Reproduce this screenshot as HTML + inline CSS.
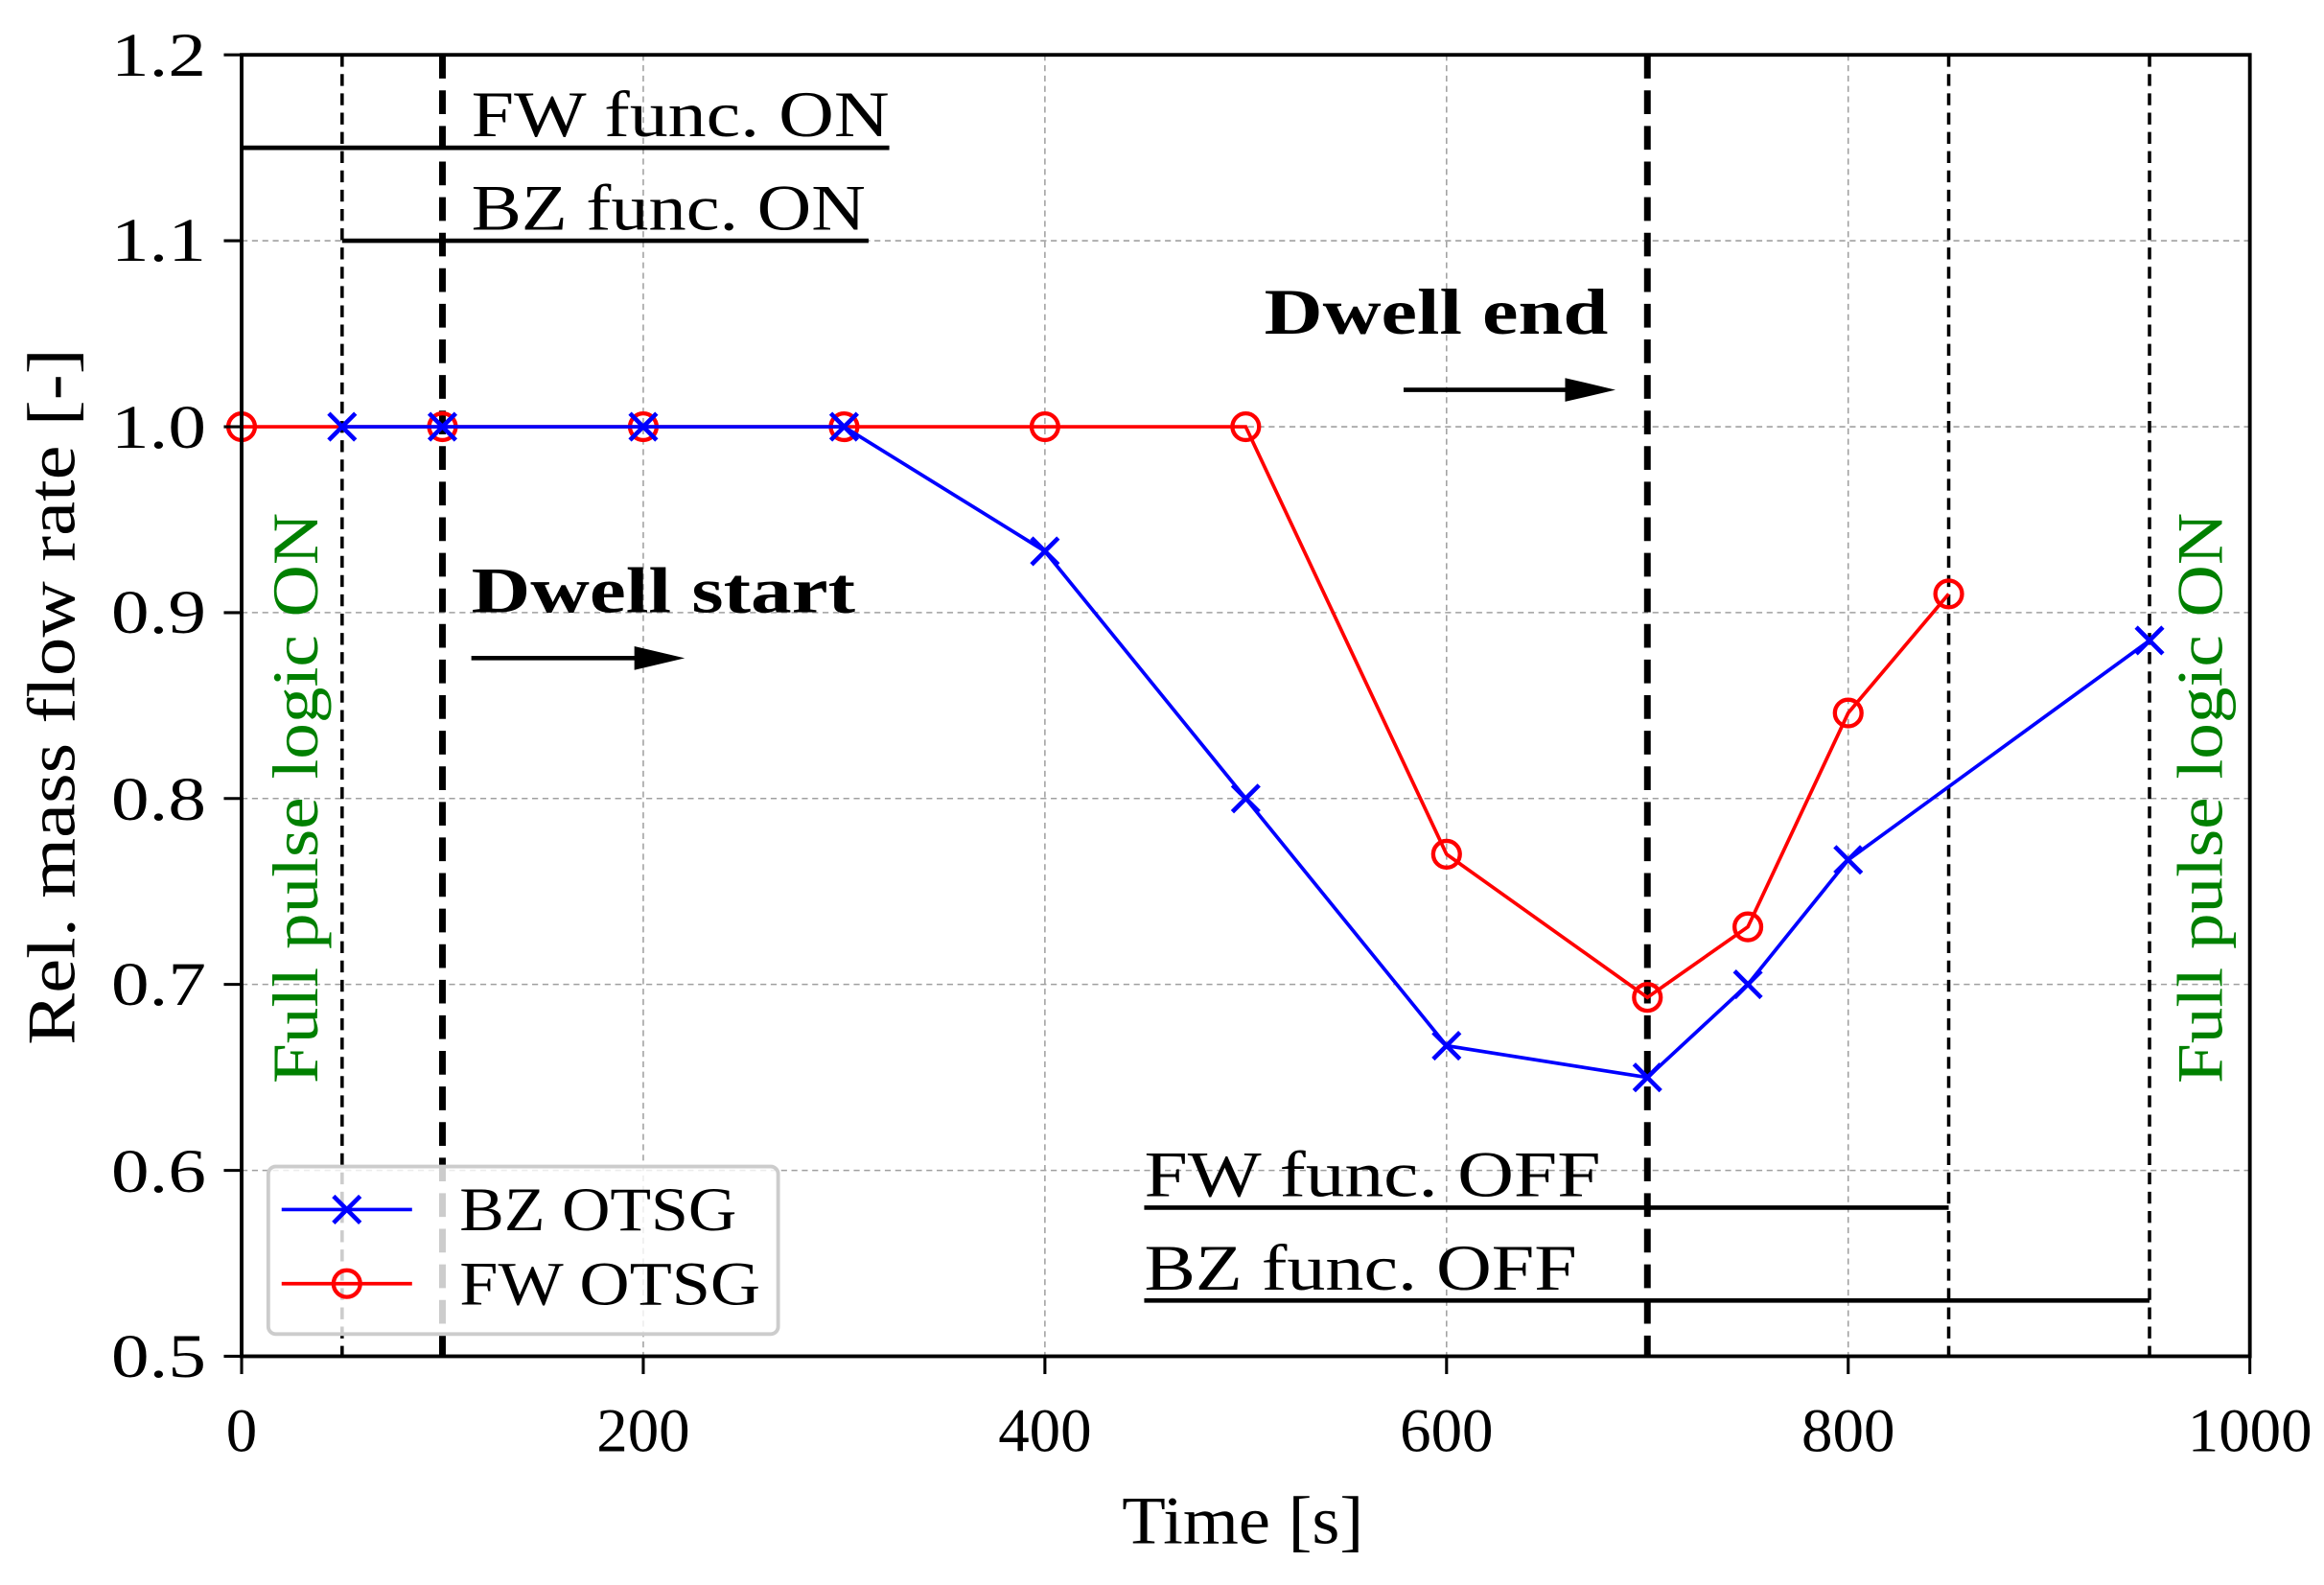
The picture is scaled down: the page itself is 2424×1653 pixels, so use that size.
<!DOCTYPE html>
<html><head><meta charset="utf-8"><style>html,body{margin:0;padding:0;background:#fff}svg{display:block}</style></head>
<body>
<svg width="2424" height="1653" viewBox="0 0 1568 1069.3" xmlns="http://www.w3.org/2000/svg" font-family="'Liberation Serif', serif">
<rect width="1568" height="1070" fill="#fff"/>
<!-- grid -->
<g stroke="#a0a0a0" stroke-width="1" stroke-dasharray="4,3">
<line x1="434" y1="37" x2="434" y2="915"/><line x1="705" y1="37" x2="705" y2="915"/><line x1="976" y1="37" x2="976" y2="915"/><line x1="1247" y1="37" x2="1247" y2="915"/>
<line x1="163" y1="162.4" x2="1518" y2="162.4"/><line x1="163" y1="287.9" x2="1518" y2="287.9"/><line x1="163" y1="413.3" x2="1518" y2="413.3"/><line x1="163" y1="538.7" x2="1518" y2="538.7"/><line x1="163" y1="664.1" x2="1518" y2="664.1"/><line x1="163" y1="789.6" x2="1518" y2="789.6"/>
</g>
<!-- vertical event lines -->
<g stroke="#000" fill="none">
<line x1="230.8" y1="37" x2="230.8" y2="915" stroke-width="2.3" stroke-dasharray="8,5"/>
<line x1="1314.8" y1="37" x2="1314.8" y2="915" stroke-width="2.3" stroke-dasharray="8,5"/>
<line x1="1450.3" y1="37" x2="1450.3" y2="915" stroke-width="2.3" stroke-dasharray="8,5"/>
<line x1="298.5" y1="37" x2="298.5" y2="915" stroke-width="4.5" stroke-dasharray="16,8"/>
<line x1="1111.5" y1="37" x2="1111.5" y2="915" stroke-width="4.5" stroke-dasharray="16,8"/>
<line x1="163" y1="99.7" x2="600" y2="99.7" stroke-width="3"/>
<line x1="230.8" y1="162.4" x2="586" y2="162.4" stroke-width="3"/>
<line x1="772" y1="814.7" x2="1314.8" y2="814.7" stroke-width="3"/>
<line x1="772" y1="877.4" x2="1450.3" y2="877.4" stroke-width="3"/>
</g>
<!-- annotations -->
<g font-size="44" fill="#000" lengthAdjust="spacingAndGlyphs">
<text x="318" y="92" textLength="282" lengthAdjust="spacingAndGlyphs">FW func. ON</text>
<text x="318" y="155" textLength="266" lengthAdjust="spacingAndGlyphs">BZ func. ON</text>
<text x="772" y="807" textLength="308" lengthAdjust="spacingAndGlyphs">FW func. OFF</text>
<text x="772" y="870" textLength="292" lengthAdjust="spacingAndGlyphs">BZ func. OFF</text>
<text x="318" y="413" font-weight="bold" textLength="259" lengthAdjust="spacingAndGlyphs">Dwell start</text>
<text x="853" y="225" font-weight="bold" textLength="232" lengthAdjust="spacingAndGlyphs">Dwell end</text>
</g>
<line x1="318" y1="444" x2="440" y2="444" stroke="#000" stroke-width="3"/>
<polygon points="428,436 462,444 428,452" fill="#000"/>
<line x1="947" y1="263" x2="1068" y2="263" stroke="#000" stroke-width="3"/>
<polygon points="1056,255 1090,263 1056,271" fill="#000"/>
<g font-size="44" fill="#008000">
<text transform="translate(214,731) rotate(-90)" textLength="385" lengthAdjust="spacingAndGlyphs">Full pulse logic ON</text>
<text transform="translate(1499,731) rotate(-90)" textLength="385" lengthAdjust="spacingAndGlyphs">Full pulse logic ON</text>
</g>
<!-- series -->
<polyline fill="none" stroke="#ff0000" stroke-width="2.4" points="163,287.9 298.5,287.9 434,287.9 569.5,287.9 705,287.9 840.5,287.9 976,576.3 1111.5,672.9 1179.3,625.3 1247,481 1314.8,400.7"/>
<g fill="none" stroke="#ff0000" stroke-width="2.8">
<circle cx="163" cy="287.9" r="9"/><circle cx="298.5" cy="287.9" r="9"/><circle cx="434" cy="287.9" r="9"/><circle cx="569.5" cy="287.9" r="9"/><circle cx="705" cy="287.9" r="9"/><circle cx="840.5" cy="287.9" r="9"/><circle cx="976" cy="576.3" r="9"/><circle cx="1111.5" cy="672.9" r="9"/><circle cx="1179.3" cy="625.3" r="9"/><circle cx="1247" cy="481" r="9"/><circle cx="1314.8" cy="400.7" r="9"/>
</g>
<polyline fill="none" stroke="#0000ff" stroke-width="2.4" points="230.8,287.9 298.5,287.9 434,287.9 569.5,287.9 705,371.9 840.5,538.7 976,705.5 1111.5,726.9 1179.3,664.1 1247,580.1 1450.3,432.1"/>
<g stroke="#0000ff" stroke-width="3">
<path d="M221.8,278.9l18,18M239.8,278.9l-18,18 M289.5,278.9l18,18M307.5,278.9l-18,18 M425,278.9l18,18M443,278.9l-18,18 M560.5,278.9l18,18M578.5,278.9l-18,18 M696,362.9l18,18M714,362.9l-18,18 M831.5,529.7l18,18M849.5,529.7l-18,18 M967,696.5l18,18M985,696.5l-18,18 M1102.5,717.9l18,18M1120.5,717.9l-18,18 M1170.3,655.1l18,18M1188.3,655.1l-18,18 M1238,571.1l18,18M1256,571.1l-18,18 M1441.3,423.1l18,18M1459.3,423.1l-18,18"/>
</g>
<!-- legend -->
<rect x="181" y="787" width="344" height="113" rx="5" fill="#fff" fill-opacity="0.8" stroke="#cccccc" stroke-width="2.5"/>
<line x1="190" y1="816" x2="278" y2="816" stroke="#0000ff" stroke-width="2.4"/>
<path d="M225,807l18,18M243,807l-18,18" stroke="#0000ff" stroke-width="3"/>
<line x1="190" y1="866" x2="278" y2="866" stroke="#ff0000" stroke-width="2.4"/>
<circle cx="234" cy="866" r="9" fill="none" stroke="#ff0000" stroke-width="2.8"/>
<text x="310" y="830" font-size="42" textLength="187" lengthAdjust="spacingAndGlyphs">BZ OTSG</text>
<text x="310" y="880" font-size="42" textLength="203" lengthAdjust="spacingAndGlyphs">FW OTSG</text>
<!-- axes -->
<rect x="163" y="37" width="1355" height="878" fill="none" stroke="#000" stroke-width="2.5"/>
<g stroke="#000" stroke-width="2">
<line x1="151" y1="37" x2="163" y2="37"/><line x1="151" y1="162.4" x2="163" y2="162.4"/><line x1="151" y1="287.9" x2="163" y2="287.9"/><line x1="151" y1="413.3" x2="163" y2="413.3"/><line x1="151" y1="538.7" x2="163" y2="538.7"/><line x1="151" y1="664.1" x2="163" y2="664.1"/><line x1="151" y1="789.6" x2="163" y2="789.6"/><line x1="151" y1="915" x2="163" y2="915"/>
<line x1="163" y1="915" x2="163" y2="927"/><line x1="434" y1="915" x2="434" y2="927"/><line x1="705" y1="915" x2="705" y2="927"/><line x1="976" y1="915" x2="976" y2="927"/><line x1="1247" y1="915" x2="1247" y2="927"/><line x1="1518" y1="915" x2="1518" y2="927"/>
</g>
<g font-size="42" fill="#000">
<text x="75" y="51" textLength="64" lengthAdjust="spacingAndGlyphs">1.2</text><text x="75" y="176" textLength="64" lengthAdjust="spacingAndGlyphs">1.1</text><text x="75" y="302" textLength="64" lengthAdjust="spacingAndGlyphs">1.0</text><text x="75" y="427" textLength="64" lengthAdjust="spacingAndGlyphs">0.9</text><text x="75" y="553" textLength="64" lengthAdjust="spacingAndGlyphs">0.8</text><text x="75" y="678" textLength="64" lengthAdjust="spacingAndGlyphs">0.7</text><text x="75" y="804" textLength="64" lengthAdjust="spacingAndGlyphs">0.6</text><text x="75" y="929" textLength="64" lengthAdjust="spacingAndGlyphs">0.5</text>
</g>
<g font-size="42" fill="#000" text-anchor="middle">
<text x="163" y="979">0</text><text x="434" y="979">200</text><text x="705" y="979">400</text><text x="976" y="979">600</text><text x="1247" y="979">800</text><text x="1518" y="979">1000</text>
</g>
<text x="757" y="1041" font-size="46" textLength="163" lengthAdjust="spacingAndGlyphs">Time [s]</text>
<text transform="translate(50,705) rotate(-90)" font-size="46" textLength="470" lengthAdjust="spacingAndGlyphs">Rel. mass flow rate [-]</text>
</svg>
</body></html>
